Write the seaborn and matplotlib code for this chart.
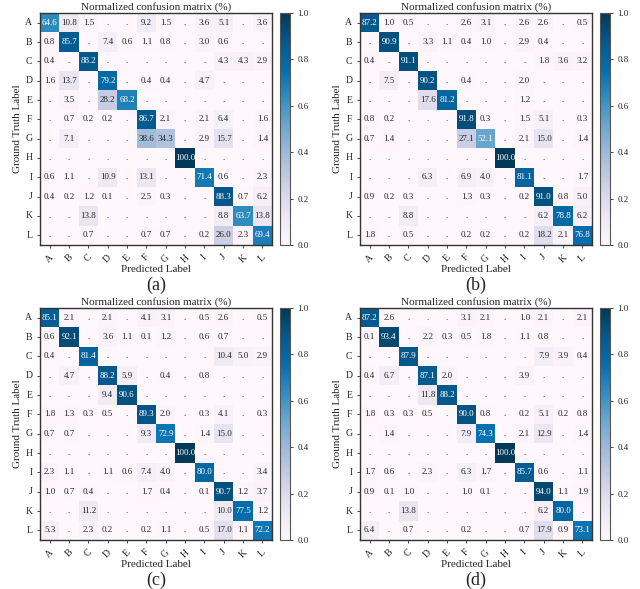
import numpy as np
import seaborn as sns
import matplotlib
matplotlib.use("Agg")
import matplotlib.pyplot as plt

labels = list("ABCDEFGHIJKL")

cm_a = [
    [64.6, 10.8, 1.5, 0, 0, 9.2, 1.5, 0, 3.6, 5.1, 0, 3.6],
    [0.8, 85.7, 0, 7.4, 0.6, 1.1, 0.8, 0, 3.0, 0.6, 0, 0],
    [0.4, 0, 88.2, 0, 0, 0, 0, 0, 0, 4.3, 4.3, 2.9],
    [1.6, 13.7, 0, 79.2, 0, 0.4, 0.4, 0, 4.7, 0, 0, 0],
    [0, 3.5, 0, 28.2, 68.2, 0, 0, 0, 0, 0, 0, 0],
    [0, 0.7, 0.2, 0.2, 0, 86.7, 2.1, 0, 2.1, 6.4, 0, 1.6],
    [0, 7.1, 0, 0, 0, 38.6, 34.3, 0, 2.9, 15.7, 0, 1.4],
    [0, 0, 0, 0, 0, 0, 0, 100.0, 0, 0, 0, 0],
    [0.6, 1.1, 0, 10.9, 0, 13.1, 0, 0, 71.4, 0.6, 0, 2.3],
    [0.4, 0.2, 1.2, 0.1, 0, 2.5, 0.3, 0, 0, 88.3, 0.7, 6.2],
    [0, 0, 13.8, 0, 0, 0, 0, 0, 0, 8.8, 63.7, 13.8],
    [0, 0, 0.7, 0, 0, 0.7, 0.7, 0, 0.2, 26.0, 2.3, 69.4],
]

cm_b = [
    [87.2, 1.0, 0.5, 0, 0, 2.6, 3.1, 0, 2.6, 2.6, 0, 0.5],
    [0, 90.9, 0, 3.3, 1.1, 0.4, 1.0, 0, 2.9, 0.4, 0, 0],
    [0.4, 0, 91.1, 0, 0, 0, 0, 0, 0, 1.8, 3.6, 3.2],
    [0, 7.5, 0, 90.2, 0, 0.4, 0, 0, 2.0, 0, 0, 0],
    [0, 0, 0, 17.6, 81.2, 0, 0, 0, 1.2, 0, 0, 0],
    [0.8, 0.2, 0, 0, 0, 91.8, 0.3, 0, 1.5, 5.1, 0, 0.3],
    [0.7, 1.4, 0, 0, 0, 27.1, 52.1, 0, 2.1, 15.0, 0, 1.4],
    [0, 0, 0, 0, 0, 0, 0, 100.0, 0, 0, 0, 0],
    [0, 0, 0, 6.3, 0, 6.9, 4.0, 0, 81.1, 0, 0, 1.7],
    [0.9, 0.2, 0.3, 0, 0, 1.3, 0.3, 0, 0.2, 91.0, 0.8, 5.0],
    [0, 0, 8.8, 0, 0, 0, 0, 0, 0, 6.2, 78.8, 6.2],
    [1.8, 0, 0.5, 0, 0, 0.2, 0.2, 0, 0.2, 18.2, 2.1, 76.8],
]

cm_c = [
    [85.1, 2.1, 0, 2.1, 0, 4.1, 3.1, 0, 0.5, 2.6, 0, 0.5],
    [0.6, 92.1, 0, 3.6, 1.1, 0.1, 1.2, 0, 0.6, 0.7, 0, 0],
    [0.4, 0, 81.4, 0, 0, 0, 0, 0, 0, 10.4, 5.0, 2.9],
    [0, 4.7, 0, 88.2, 5.9, 0, 0.4, 0, 0.8, 0, 0, 0],
    [0, 0, 0, 9.4, 90.6, 0, 0, 0, 0, 0, 0, 0],
    [1.8, 1.3, 0.3, 0.5, 0, 89.3, 2.0, 0, 0.3, 4.1, 0, 0.3],
    [0.7, 0.7, 0, 0, 0, 9.3, 72.9, 0, 1.4, 15.0, 0, 0],
    [0, 0, 0, 0, 0, 0, 0, 100.0, 0, 0, 0, 0],
    [2.3, 1.1, 0, 1.1, 0.6, 7.4, 4.0, 0, 80.0, 0, 0, 3.4],
    [1.0, 0.7, 0.4, 0, 0, 1.7, 0.4, 0, 0.1, 90.7, 1.2, 3.7],
    [0, 0, 11.2, 0, 0, 0, 0, 0, 0, 10.0, 77.5, 1.2],
    [5.3, 0, 2.3, 0.2, 0, 0.2, 1.1, 0, 0.5, 17.0, 1.1, 72.2],
]

cm_d = [
    [87.2, 2.6, 0, 0, 0, 3.1, 2.1, 0, 1.0, 2.1, 0, 2.1],
    [0.1, 93.4, 0, 2.2, 0.3, 0.5, 1.8, 0, 1.1, 0.8, 0, 0],
    [0, 0, 87.9, 0, 0, 0, 0, 0, 0, 7.9, 3.9, 0.4],
    [0.4, 6.7, 0, 87.1, 2.0, 0, 0, 0, 3.9, 0, 0, 0],
    [0, 0, 0, 11.8, 88.2, 0, 0, 0, 0, 0, 0, 0],
    [1.8, 0.3, 0.3, 0.5, 0, 90.0, 0.8, 0, 0.2, 5.1, 0.2, 0.8],
    [0, 1.4, 0, 0, 0, 7.9, 74.3, 0, 2.1, 12.9, 0, 1.4],
    [0, 0, 0, 0, 0, 0, 0, 100.0, 0, 0, 0, 0],
    [1.7, 0.6, 0, 2.3, 0, 6.3, 1.7, 0, 85.7, 0.6, 0, 1.1],
    [0.9, 0.1, 1.0, 0, 0, 1.0, 0.1, 0, 0, 94.0, 1.1, 1.9],
    [0, 0, 13.8, 0, 0, 0, 0, 0, 0, 6.2, 80.0, 0],
    [6.4, 0, 0.7, 0, 0, 0.2, 0, 0, 0.7, 17.9, 0.9, 73.1],
]

captions = ["(a)", "(b)", "(c)", "(d)"]
matrices = [cm_a, cm_b, cm_c, cm_d]

sns.set_style("ticks")
plt.rcParams["font.family"] = ["Liberation Serif", "DejaVu Serif"]

fig = plt.figure(figsize=(6.4, 5.89), dpi=100)
W, H = 640, 589

# pixel boxes (left, top) of each heatmap
origins = [(40, 13), (360, 13), (40, 308), (360, 308)]
size = 232

for cm, cap, (x0, y0) in zip(matrices, captions, origins):
    ax = fig.add_axes([x0 / W, 1 - (y0 + size) / H, size / W, size / H])
    cax = fig.add_axes([(x0 + 240) / W, 1 - (y0 + size) / H, 10 / W, size / H])
    vals = np.array(cm) / 100.0
    annot = np.array([["." if v == 0 else f"{v:.1f}" for v in row] for row in cm])
    sns.heatmap(vals, ax=ax, cbar_ax=cax, cmap="PuBu", vmin=0, vmax=1,
                annot=annot, fmt="", annot_kws={"fontsize": 6.5},
                xticklabels=labels, yticklabels=labels)
    for s in ax.spines.values():
        s.set_visible(True)
        s.set_linewidth(1.0)
        s.set_color("#333333")
    cb = ax.collections[0].colorbar
    cb.outline.set_visible(True)
    cb.outline.set_linewidth(0.8)
    cb.outline.set_edgecolor("#555555")
    cax.tick_params(labelsize=6.5, length=2, width=0.6)
    ax.tick_params(labelsize=7, length=2, width=0.6)
    ax.set_xticklabels(labels, rotation=45)
    ax.set_yticklabels(labels, rotation=0)
    ax.set_title("Normalized confusion matrix (%)", fontsize=8, pad=2)
    ax.set_xlabel("Predicted Label", fontsize=8, labelpad=1)
    ax.set_ylabel("Ground Truth Label", fontsize=8, labelpad=2)
    fig.text((x0 + size / 2) / W, 1 - (y0 + size + 40) / H, cap,
             ha="center", va="center", fontsize=13)

plt.savefig("out.png", dpi=100)
